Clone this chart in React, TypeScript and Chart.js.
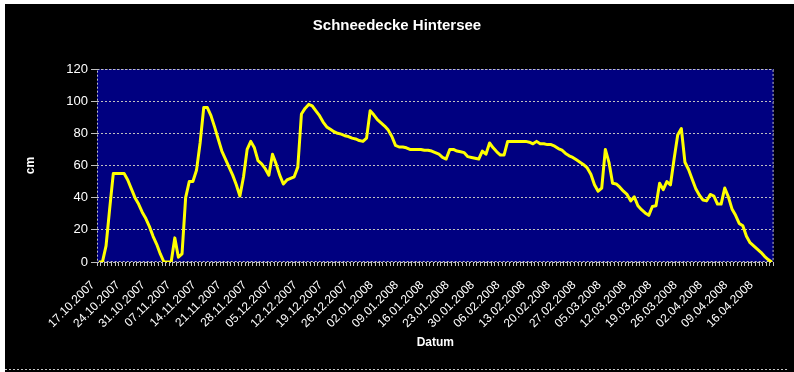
import React, { useEffect, useRef } from "react";
import { Chart, registerables } from "chart.js";

Chart.register(...registerables);

const TITLE = "Schneedecke Hintersee";
const X_TITLE = "Datum";
const Y_TITLE = "cm";
const START_DATE = "2007-10-17";

const tickLabels = [
  "17.10.2007", "24.10.2007", "31.10.2007", "07.11.2007", "14.11.2007",
  "21.11.2007", "28.11.2007", "05.12.2007", "12.12.2007", "19.12.2007",
  "26.12.2007", "02.01.2008", "09.01.2008", "16.01.2008", "23.01.2008",
  "30.01.2008", "06.02.2008", "13.02.2008", "20.02.2008", "27.02.2008",
  "05.03.2008", "12.03.2008", "19.03.2008", "26.03.2008", "02.04.2008",
  "09.04.2008", "16.04.2008",
];

// daily snow depth in cm, 17.10.2007 .. 20.04.2008
const snowDepth = [
  0, 0, 10, 33, 55, 55, 55, 55, 51, 45.5,
  40, 36, 31, 27, 22, 16, 11, 5, 0, 0,
  0, 15, 3, 5, 40, 50, 50, 57, 74, 96,
  96, 91, 84, 76.5, 69, 64, 59, 54, 48, 41,
  53, 70, 75, 71, 63, 61, 58, 54, 67, 61,
  54, 48.5, 51, 52, 53, 59, 92, 95.5, 98, 97,
  94, 91, 87, 84, 82.5, 81, 80, 79.5, 78.5, 78,
  77, 76.5, 75.5, 75, 77, 94, 91.5, 88.5, 86.5, 84.5,
  82, 78, 72.5, 71.5, 71.5, 71, 70, 70, 70, 70,
  69.5, 69.5, 69, 68, 67, 65, 64, 70, 70, 69,
  68.5, 68, 65.5, 65, 64.5, 64, 69, 67, 74, 71,
  68.5, 66.5, 66.5, 75, 75, 75, 75, 75, 75, 74.5,
  73.5, 75, 73.5, 73.5, 73, 73, 72, 70.5, 69.5, 67.5,
  66, 65, 63.5, 62, 60.5, 58.5, 54.5, 48, 44, 46,
  70, 62, 49, 48.5, 46.5, 44, 42, 38, 40.5, 35,
  32.5, 30.5, 29, 34.5, 35, 49, 45, 50, 48, 64,
  79, 83, 62, 57.5, 51.5, 45.5, 41.5, 38.5, 38, 42,
  41, 36, 36, 46, 40.5, 33, 29, 24, 22.5, 16,
  12, 10, 8, 6, 3.5, 1.5, 0,
];

const Y_MIN = 0;
const Y_MAX = 120;
const Y_STEP = 20;

function buildDates(start: string, n: number): string[] {
  const out: string[] = [];
  const base = new Date(start + "T00:00:00Z").getTime();
  for (let i = 0; i < n; i++) {
    const d = new Date(base + i * 86400000);
    const dd = String(d.getUTCDate()).padStart(2, "0");
    const mm = String(d.getUTCMonth() + 1).padStart(2, "0");
    out.push(`${dd}.${mm}.${d.getUTCFullYear()}`);
  }
  return out;
}

const dates = buildDates(START_DATE, snowDepth.length);
const FONT = "Arial, 'Liberation Sans', sans-serif";

const framePlugin = {
  id: "frame",
  beforeDraw(chart: any) {
    const { ctx, chartArea: a, width, height } = chart;
    ctx.save();
    ctx.fillStyle = "#ffffff";
    ctx.fillRect(0, 0, width, height);
    ctx.fillStyle = "#000000";
    ctx.fillRect(5, 4, width - 5, height - 4);
    ctx.strokeStyle = "#c8c8c8";
    ctx.lineWidth = 1;
    ctx.setLineDash([2, 2]);
    ctx.beginPath();
    ctx.moveTo(5, 369.5);
    ctx.lineTo(788, 369.5);
    ctx.stroke();
    ctx.setLineDash([]);
    ctx.fillStyle = "#000080";
    ctx.fillRect(a.left, a.top, a.right - a.left, a.bottom - a.top);
    ctx.fillStyle = "#ffffff";
    ctx.font = `bold 15px ${FONT}`;
    ctx.textAlign = "center";
    ctx.textBaseline = "middle";
    ctx.fillText(TITLE, 397, 26);
    ctx.restore();
  },
  beforeDatasetsDraw(chart: any) {
    const { ctx, chartArea: a } = chart;
    ctx.save();
    ctx.strokeStyle = "#c0c0c0";
    ctx.lineWidth = 1;
    ctx.setLineDash([2, 2]);
    ctx.strokeRect(a.left + 0.5, a.top + 0.5, a.right - a.left - 1, a.bottom - a.top - 1);
    ctx.restore();
  },
};

export default function App() {
  const ref = useRef<HTMLCanvasElement | null>(null);

  useEffect(() => {
    if (!ref.current) return;
    const chart = new Chart(ref.current, {
      type: "line",
      data: {
        labels: dates,
        datasets: [
          {
            data: snowDepth,
            borderColor: "#ffff00",
            borderWidth: 3,
            pointRadius: 0,
            tension: 0,
            fill: false,
            borderJoinStyle: "round",
          },
        ],
      },
      options: {
        responsive: false,
        animation: false,
        devicePixelRatio: 1,
        layout: { padding: { top: 69, right: 15, bottom: 0, left: 0 } },
        plugins: {
          legend: { display: false },
          tooltip: { enabled: false },
          title: { display: false },
        },
        scales: {
          x: {
            type: "category",
            offset: true,
            grid: {
              display: true,
              drawOnChartArea: false,
              drawTicks: true,
              tickLength: 4,
              color: "#c0c0c0",
              offset: true,
            },
            border: { display: false },
            ticks: {
              autoSkip: false,
              minRotation: 45,
              maxRotation: 45,
              padding: 12,
              labelOffset: -6,
              color: "#ffffff",
              font: { family: FONT, size: 12 },
              callback: (_v: any, i: number) => (tickLabels.includes(dates[i]) ? dates[i] : ""),
            },
            title: {
              display: true,
              text: X_TITLE,
              color: "#ffffff",
              font: { family: FONT, size: 12, weight: "bold" },
              padding: { top: 0, bottom: 22 },
            },
            afterFit: (s: any) => {
              s.height = 110;
            },
          },
          y: {
            min: Y_MIN,
            max: Y_MAX,
            grid: {
              color: "#c0c0c0",
              tickLength: 6,
              tickColor: "#c0c0c0",
              tickBorderDash: [],
            },
            border: { display: false, dash: [2, 2] },
            ticks: {
              stepSize: Y_STEP,
              padding: 3,
              color: "#ffffff",
              font: { family: FONT, size: 13 },
            },
            title: {
              display: true,
              text: Y_TITLE,
              color: "#ffffff",
              font: { family: FONT, size: 12, weight: "bold" },
              padding: { top: 23, bottom: 0 },
            },
            afterFit: (s: any) => {
              s.width = 97;
            },
          },
        },
      },
      plugins: [framePlugin],
    } as any);
    return () => chart.destroy();
  }, []);

  return (
    <div style={{ position: "fixed", left: 0, top: 0, width: 794, height: 372, background: "#ffffff" }}>
      <canvas ref={ref} width={794} height={372} style={{ display: "block", width: 794, height: 372 }} />
    </div>
  );
}
